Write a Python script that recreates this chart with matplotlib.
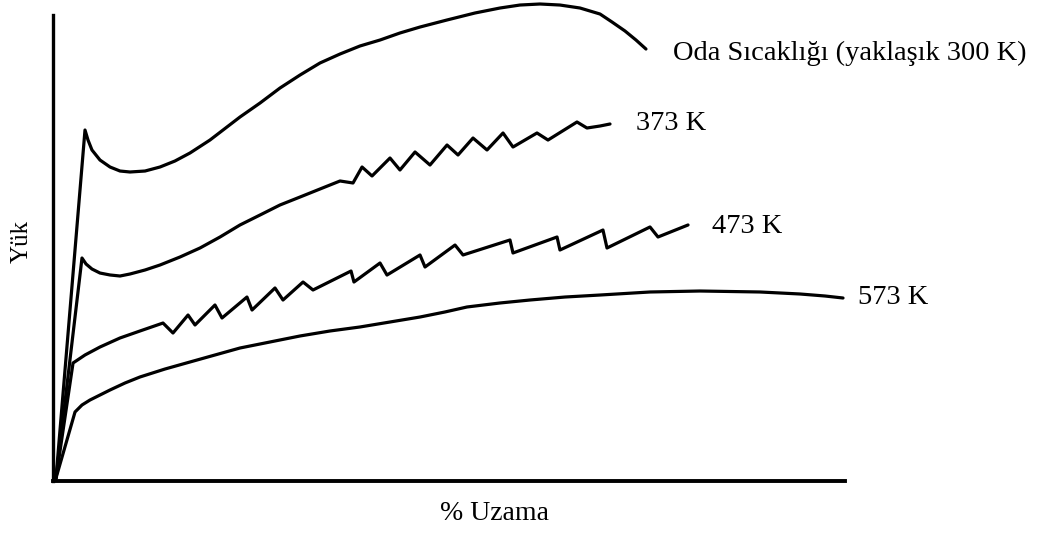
import matplotlib
matplotlib.use("Agg")
import matplotlib.pyplot as plt

# Yük - % uzama egrileri (eksenler 0-100 birim, okunan degerler)
oda_x = [0.38, 4.04, 4.42, 4.92, 5.93, 7.20, 8.46, 9.72, 11.62, 13.51, 15.40, 17.30, 19.82,
         23.61, 26.14, 28.66, 31.19, 33.71, 36.24, 38.76, 41.29, 43.81, 46.34, 49.75,
         53.28, 56.44, 58.96, 61.49, 64.01, 66.54, 69.07, 70.58, 72.22, 73.61, 74.87]
oda_y = [0.64, 75.32, 73.17, 71.03, 68.88, 67.38, 66.52, 66.31, 66.52, 67.38, 68.67, 70.39,
         73.17, 78.11, 81.11, 84.33, 87.12, 89.70, 91.63, 93.35, 94.63, 96.14, 97.42,
         98.93, 100.43, 101.50, 102.14, 102.36, 102.14, 101.50, 100.21, 98.50, 96.57,
         94.63, 92.70]

k373_x = [0.38, 3.66, 4.17, 4.92, 5.93, 7.20, 8.46, 9.72, 11.62, 13.51, 16.04, 18.56, 21.09,
          23.61, 26.14, 28.66, 31.19, 33.71, 36.24,
          37.88, 39.02, 40.28, 42.55, 43.81, 45.71, 47.60, 49.75, 51.14, 53.03, 54.80,
          56.82, 58.08, 61.11, 62.50, 66.16, 67.42, 69.07, 70.33]
k373_y = [0.64, 47.85, 46.57, 45.49, 44.63, 44.21, 43.99, 44.42, 45.28, 46.35, 48.07, 50.00,
          52.36, 54.94, 57.08, 59.23, 60.94, 62.66, 64.38,
          63.95, 67.38, 65.45, 69.31, 66.74, 70.60, 67.81, 72.10, 69.96, 73.60, 71.03,
          74.68, 71.67, 74.68, 73.17, 77.04, 75.75, 76.18, 76.61]

k473_x = [0.38, 2.53, 4.04, 5.93, 8.46, 10.98, 13.89, 15.15, 17.05, 17.93, 20.45, 21.34,
          24.49, 25.13, 28.03, 29.04, 31.57, 32.83, 37.63, 38.00, 41.29, 42.17, 46.34,
          46.97, 50.76, 51.77, 57.70, 58.08, 63.64, 64.01, 69.44, 69.95, 75.38, 76.39, 80.18]
k473_y = [0.64, 25.32, 27.04, 28.75, 30.69, 32.19, 33.90, 31.76, 35.62, 33.48, 37.77, 34.98,
          39.48, 36.69, 41.42, 38.84, 42.70, 40.99, 45.06, 42.70, 46.78, 44.20, 48.50,
          45.92, 50.64, 48.50, 51.72, 48.93, 52.36, 49.57, 53.86, 50.00, 54.51, 52.36, 54.94]

k573_x = [0.38, 2.78, 3.66, 4.67, 5.93, 7.20, 9.09, 10.98, 14.14, 17.30, 20.45, 23.61,
          27.40, 31.19, 34.97, 38.76, 42.55, 46.34, 49.49, 52.27, 56.44, 60.23, 64.64,
          69.07, 75.38, 81.69, 89.27, 94.32, 97.47, 99.75]
k573_y = [0.64, 14.81, 16.31, 17.38, 18.45, 19.53, 21.03, 22.32, 24.03, 25.54, 27.04, 28.54,
          29.83, 31.12, 32.19, 33.05, 34.12, 35.19, 36.27, 37.34, 38.20, 38.84, 39.48,
          39.91, 40.56, 40.77, 40.56, 40.13, 39.70, 39.27]

labels = ["Oda Sıcaklığı (yaklaşık 300 K)", "373 K", "473 K", "573 K"]
label_pos = [(78.3, 91.8), (73.6, 76.8), (83.2, 54.7), (101.6, 39.3)]

W, H = 1043, 535
fig = plt.figure(figsize=(W / 100, H / 100), dpi=100)
ax = fig.add_axes([53 / W, (H - 481) / H, 792 / W, 481 / H])

for xs, ys in [(oda_x, oda_y), (k373_x, k373_y), (k473_x, k473_y), (k573_x, k573_y)]:
    ax.plot(xs, ys, color="black", linewidth=2.3, solid_joinstyle="round",
            solid_capstyle="round", clip_on=False)

for txt, (lx, ly) in zip(labels, label_pos):
    ax.text(lx, ly, txt, fontsize=20.5, family="Liberation Serif", va="center",
            ha="left", clip_on=False)

ax.set_xlim(0, 100)
ax.set_ylim(0, 481 / 4.66)
ax.spines["top"].set_visible(False)
ax.spines["right"].set_visible(False)
ax.spines["left"].set_linewidth(2.4)
ax.spines["bottom"].set_linewidth(2.8)
ax.spines["left"].set_bounds(0, 100)
ax.set_xticks([])
ax.set_yticks([])

fig.text(495 / W, 1 - 513 / H, "% Uzama", fontsize=20, family="Liberation Serif",
         ha="center", va="center")
fig.text(22 / W, 1 - 241 / H, "Yük", fontsize=18, family="Liberation Serif",
         ha="center", va="center", rotation=90)

fig.savefig("out.png", dpi=100, facecolor="white")
